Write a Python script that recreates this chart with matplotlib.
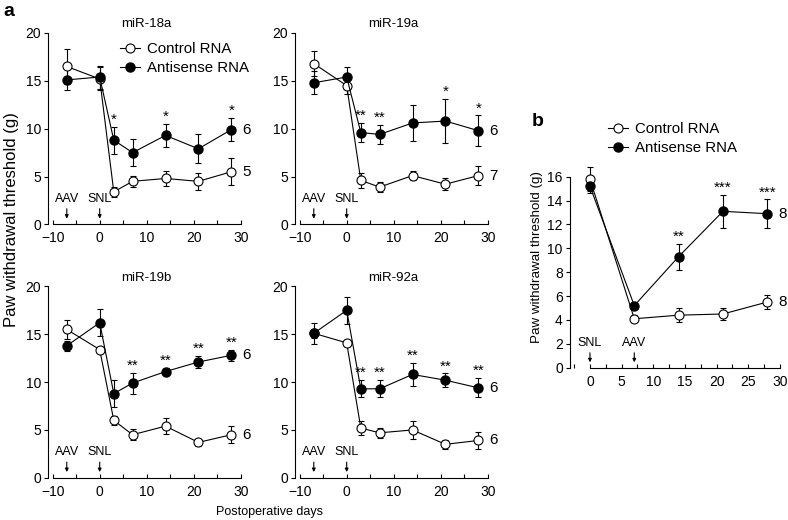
import numpy as np
import matplotlib
matplotlib.use('Agg')
import matplotlib.pyplot as plt
from matplotlib.ticker import MultipleLocator

plt.rcParams['font.family'] = ['Liberation Sans', 'DejaVu Sans']

# panel a: days relative to SNL
days_a = [-7, 0, 3, 7, 14, 21, 28]
titles = ['miR-18a', 'miR-19a', 'miR-19b', 'miR-92a']

ctrl_18a = [16.5, 15.2, 3.4, 4.5, 4.8, 4.5, 5.5]
ctrl_18a_err = [1.8, 1.2, 0.5, 0.6, 0.8, 0.9, 1.4]
anti_18a = [15.1, 15.4, 8.8, 7.5, 9.3, 7.9, 9.9]
anti_18a_err = [1.1, 1.2, 1.4, 1.4, 1.2, 1.5, 1.2]

ctrl_19a = [16.8, 14.5, 4.6, 3.9, 5.1, 4.2, 5.1]
ctrl_19a_err = [1.3, 0.9, 0.8, 0.5, 0.5, 0.6, 1.0]
anti_19a = [14.8, 15.4, 9.6, 9.4, 10.6, 10.8, 9.8]
anti_19a_err = [1.2, 1.0, 1.0, 1.0, 1.9, 2.3, 1.6]

ctrl_19b = [15.5, 13.4, 6.0, 4.5, 5.4, 3.7, 4.5]
ctrl_19b_err = [1.0, 0.3, 0.5, 0.6, 0.8, 0.4, 0.9]
anti_19b = [13.8, 16.2, 8.8, 9.9, 11.1, 12.1, 12.8]
anti_19b_err = [0.5, 1.4, 1.4, 1.1, 0.4, 0.6, 0.6]

ctrl_92a = [15.1, 14.1, 5.2, 4.7, 5.0, 3.5, 3.9]
ctrl_92a_err = [0.5, 0.3, 0.7, 0.5, 0.9, 0.5, 0.9]
anti_92a = [15.1, 17.5, 9.3, 9.3, 10.8, 10.2, 9.4]
anti_92a_err = [1.1, 1.4, 0.9, 0.9, 1.2, 0.7, 1.0]

stars_18a = ['', '', '*', '', '*', '', '*']
stars_19a = ['', '', '**', '**', '', '*', '*']
stars_19b = ['', '', '', '**', '**', '**', '**']
stars_92a = ['', '', '**', '**', '**', '**', '**']

n_ctrl = ['5', '7', '6', '6']
n_anti = ['6', '6', '6', '6']

# panel b: days after SNL, AAV at day 7
days_b = [0, 7, 14, 21, 28]
ctrl_b = [15.8, 4.1, 4.4, 4.5, 5.5]
ctrl_b_err = [1.0, 0.3, 0.6, 0.5, 0.6]
anti_b = [15.2, 5.2, 9.3, 13.1, 12.9]
anti_b_err = [0.6, 0.3, 1.1, 1.4, 1.2]
stars_b = ['', '', '**', '***', '***']

ctrl_all = [ctrl_18a, ctrl_19a, ctrl_19b, ctrl_92a]
ctrl_err_all = [ctrl_18a_err, ctrl_19a_err, ctrl_19b_err, ctrl_92a_err]
anti_all = [anti_18a, anti_19a, anti_19b, anti_92a]
anti_err_all = [anti_18a_err, anti_19a_err, anti_19b_err, anti_92a_err]
stars_all = [stars_18a, stars_19a, stars_19b, stars_92a]

W, H = 788, 520
fig = plt.figure(figsize=(W / 100, H / 100), dpi=100)


def px_axes(left, top, width, height):
    return fig.add_axes([left / W, 1 - (top + height) / H, width / W, height / H])


def draw_series(ax, x, ctrl, ctrl_err, anti, anti_err):
    ax.errorbar(x, ctrl, yerr=ctrl_err, fmt='none', ecolor='k', elinewidth=0.8,
                capsize=2, capthick=0.8, zorder=2, clip_on=False)
    ax.errorbar(x, anti, yerr=anti_err, fmt='none', ecolor='k', elinewidth=0.8,
                capsize=2, capthick=0.8, zorder=2, clip_on=False)
    l1, = ax.plot(x, ctrl, '-o', color='k', mfc='white', mec='k', mew=0.8, ms=6.5,
                  lw=0.8, zorder=3, clip_on=False, label='Control RNA')
    l2, = ax.plot(x, anti, '-o', color='k', mfc='k', mec='k', ms=6.5,
                  lw=0.8, zorder=4, clip_on=False, label='Antisense RNA')
    return l1, l2


def style(ax):
    for s in ['top', 'right']:
        ax.spines[s].set_visible(False)
    for s in ['left', 'bottom']:
        ax.spines[s].set_linewidth(0.8)
    ax.tick_params(axis='x', which='both', direction='in', length=3, width=0.8,
                   labelsize=10, pad=5)
    ax.tick_params(axis='y', which='both', direction='out', length=3, width=0.8,
                   labelsize=10, pad=2)


def put_stars(ax, x, y, err, stars):
    for xi, yi, ei, st in zip(x, y, err, stars):
        if st:
            ax.annotate(st, (xi, yi + ei), xytext=(0, 0), textcoords='offset points',
                        ha='center', va='bottom', fontsize=11)


lefts = [48, 295, 48, 295]
tops = [33, 33, 286.4, 286.4]
for i in range(4):
    ax = px_axes(lefts[i], tops[i], 197.4, 191.4)
    l1, l2 = draw_series(ax, days_a, ctrl_all[i], ctrl_err_all[i],
                         anti_all[i], anti_err_all[i])
    put_stars(ax, days_a, anti_all[i], anti_err_all[i], stars_all[i])
    ax.set_xlim(-11, 31)
    ax.set_ylim(0, 20)
    ax.spines['bottom'].set_bounds(-10, 30)
    ax.set_xticks([-10, 0, 10, 20, 30])
    ax.xaxis.set_minor_locator(MultipleLocator(5))
    ax.set_yticks([0, 5, 10, 15, 20])
    style(ax)
    ax.set_title(titles[i], fontsize=9.5, pad=4)
    ax.annotate(n_anti[i], (days_a[-1], anti_all[i][-1]), xytext=(8, 0),
                textcoords='offset points', ha='left', va='center', fontsize=11)
    ax.annotate(n_ctrl[i], (days_a[-1], ctrl_all[i][-1]), xytext=(8, 0),
                textcoords='offset points', ha='left', va='center', fontsize=11)
    for lab, xd in [('AAV', -7), ('SNL', 0)]:
        ax.annotate(lab, xy=(xd, 0.6), xytext=(xd, 2.7), ha='center', va='center',
                    fontsize=9,
                    arrowprops=dict(arrowstyle='-|>', color='k', lw=0.8,
                                    mutation_scale=5, shrinkA=1, shrinkB=0))
    if i == 0:
        ax.legend(handles=[l1, l2], loc='upper left', frameon=False,
                  bbox_to_anchor=(120 / W, 1 - 42 / H), bbox_transform=fig.transFigure,
                  borderpad=0, borderaxespad=0, handlelength=1.3, handletextpad=0.5,
                  labelspacing=0.35, fontsize=10.8)

fig.text(12 / W, 1 - 220 / H, 'Paw withdrawal threshold (g)', rotation=90,
         ha='center', va='center', fontsize=12)
fig.text(270 / W, 1 - 512 / H, 'Postoperative days', ha='center', va='center',
         fontsize=9)
fig.text(3 / W, 1 - 12 / H, 'a', ha='left', va='center', fontsize=14, fontweight='bold')

# panel b
axb = px_axes(569.7, 176.7, 213.4, 191)
l1, l2 = draw_series(axb, days_b, ctrl_b, ctrl_b_err, anti_b, anti_b_err)
put_stars(axb, days_b, anti_b, anti_b_err, stars_b)
axb.set_xlim(-3.2, 30.5)
axb.set_ylim(0, 16)
axb.spines['bottom'].set_bounds(0, 30)
axb.set_xticks([0, 5, 10, 15, 20, 25, 30])
axb.xaxis.set_minor_locator(MultipleLocator(2.5))
axb.set_yticks(np.arange(0, 17, 2))
style(axb)
axb.annotate('8', (days_b[-1], anti_b[-1]), xytext=(8, 0), textcoords='offset points',
             ha='left', va='center', fontsize=11)
axb.annotate('8', (days_b[-1], ctrl_b[-1]), xytext=(8, 0), textcoords='offset points',
             ha='left', va='center', fontsize=11)
for lab, xd in [('SNL', 0), ('AAV', 7)]:
    axb.annotate(lab, xy=(xd, 0.45), xytext=(xd, 2.1), ha='center', va='center',
                 fontsize=9,
                 arrowprops=dict(arrowstyle='-|>', color='k', lw=0.8,
                                 mutation_scale=5, shrinkA=1, shrinkB=0))
axb.legend(handles=[l1, l2], loc='upper left', frameon=False,
           bbox_to_anchor=(608 / W, 1 - 122 / H), bbox_transform=fig.transFigure,
           borderpad=0, borderaxespad=0, handlelength=1.3, handletextpad=0.5,
           labelspacing=0.35, fontsize=10.8)
fig.text(537 / W, 1 - 257 / H, 'Paw withdrawal threshold (g)', rotation=90,
         ha='center', va='center', fontsize=9.6)
fig.text(532 / W, 1 - 122 / H, 'b', ha='left', va='center', fontsize=14, fontweight='bold')

fig.savefig('out.png', dpi=100)
